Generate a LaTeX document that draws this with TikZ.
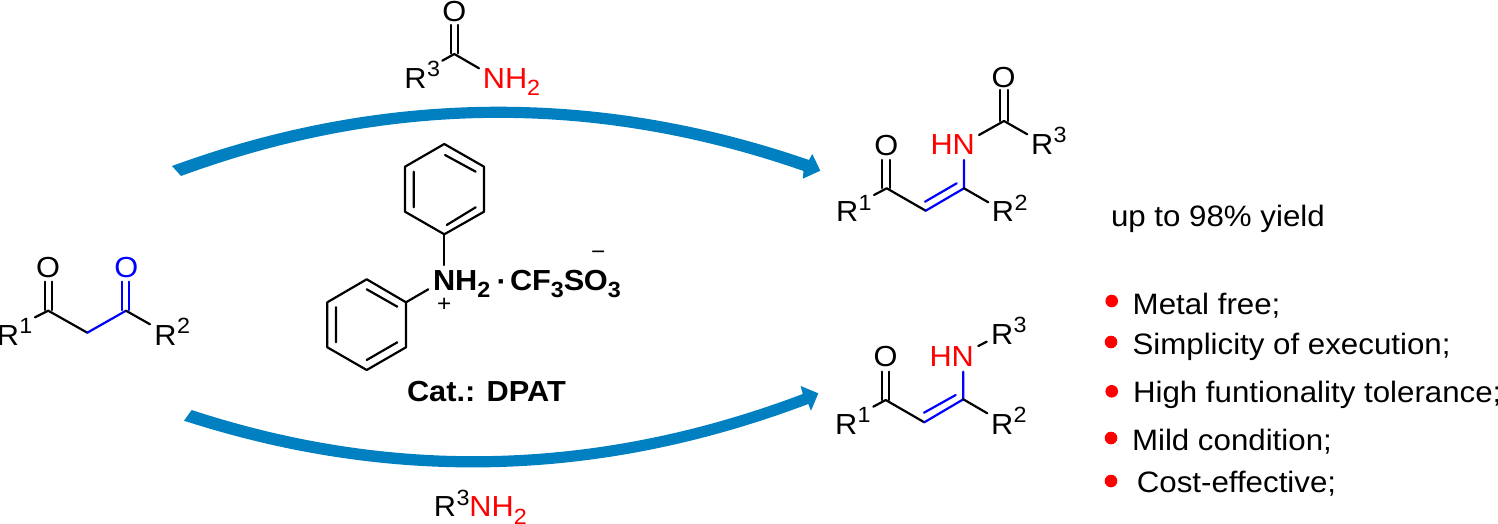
\documentclass[tikz,border=0pt]{standalone}
\usepackage{fontspec}
\setmainfont[FakeStretch=1.06]{Liberation Sans}
\definecolor{arrowblue}{HTML}{0080C0}
\definecolor{purered}{HTML}{FF0000}
\definecolor{pureblue}{HTML}{0000FF}
\newcommand{\upn}[1]{\kern0.5pt\raisebox{11.5pt}{\fontsize{22}{22}\selectfont #1}}
\newcommand{\lown}[1]{\raisebox{-7.7pt}{\fontsize{22}{22}\selectfont #1}}
\tikzset{
  txt/.style={inner sep=0pt,outer sep=0pt,anchor=base west,font=\fontsize{29}{29}\selectfont},
  boldtxt/.style={inner sep=0pt,outer sep=0pt,anchor=base west,font=\fontsize{29}{29}\selectfont\bfseries},
  listtxt/.style={inner sep=0pt,outer sep=0pt,anchor=base west,font=\fontsize{29.5}{29.5}\selectfont},
  bond/.style={line width=2.2pt,line cap=round,line join=round,draw=black},
  bbond/.style={bond,draw=pureblue},
  dotm/.style={circle,fill=purered,minimum size=12.6pt,inner sep=0pt,outer sep=0pt},
  bigarrow/.style={fill=arrowblue,draw=none}
}
\begin{document}
\begin{tikzpicture}[x=1pt,y=-1pt]
\useasboundingbox (0,0) rectangle (1498,524);
\fill[white] (0,0) rectangle (1498,524);

% curved arrows
\coordinate (ta) at (172,166);
\coordinate (tb) at (809,160);
\coordinate (tc) at (812.3,154);
\coordinate (td) at (820.3,170.7);
\coordinate (te) at (802.7,178.7);
\coordinate (tf) at (803.5,171);
\coordinate (tg) at (181,176);
\fill[bigarrow] (ta) .. controls (382,89) and (598,87) .. (tb) -- (tc) -- (td) -- (te) -- (tf) .. controls (596,98.7) and (388,100) .. (tg) -- cycle;
\coordinate (ba) at (191.7,410);
\coordinate (bb) at (802.7,394);
\coordinate (bc) at (800.7,386);
\coordinate (bd) at (818.3,393.3);
\coordinate (be) at (811,410.7);
\coordinate (bf) at (808.3,404);
\coordinate (bg) at (184,420.7);
\fill[bigarrow] (ba) .. controls (395,476.7) and (599,471) .. (bb) -- (bc) -- (bd) -- (be) -- (bf) .. controls (600,482.7) and (392,488) .. (bg) -- cycle;

% diketone
\node[txt] (aO1) at (36,277) {O};
\node[txt,text=pureblue] (aO2) at (114.3,277) {O};
\node[txt] (aR1) at (-3.2,345) {R\upn{1}};
\node[txt] (aR2) at (154.3,345) {R\upn{2}};
\coordinate (a1) at (48.3,310.7);
\coordinate (a2) at (87.3,332.7);
\coordinate (a3) at (126,310.7);
\coordinate (a1r) at (35,317.3);
\coordinate (a3r) at (150,324.3);
\draw[bond] (a1r) -- (a1) -- (a2);
\draw[bbond] (a2) -- (a3);
\draw[bond] (a3) -- (a3r);
\draw[bond] (45,281.7) -- (45,310) (52.3,281.7) -- (52.3,310);
\draw[bbond] (122.3,281.7) -- (122.3,310) (129.3,281.7) -- (129.3,310);

% amide reagent
\node[txt] (mO) at (442.3,22) {O};
\node[txt] (mR) at (404.3,88.3) {R\upn{3}};
\node[txt,text=purered] (mN) at (482.8,88.3) {NH\lown{2}};
\coordinate (m1) at (454.3,54);
\coordinate (m1r) at (442.3,60.7);
\coordinate (m1n) at (479,68.3);
\draw[bond] (m1r) -- (m1) -- (m1n);
\draw[bond] (450.7,25) -- (450.7,53.3) (458.3,25) -- (458.3,53.3);

% catalyst
\coordinate (p1) at (444.3,144);
\coordinate (p2) at (484,166.7);
\coordinate (p3) at (484,211.7);
\coordinate (p4) at (444.3,234.3);
\coordinate (p5) at (405,211.7);
\coordinate (p6) at (405,166.7);
\coordinate (pn) at (444.3,265);
\draw[bond] (p1) -- (p2) -- (p3) -- (p4) -- (p5) -- (p6) -- cycle;
\draw[bond] (p4) -- (pn);
\draw[bond] (445,155) -- (475.7,171.7) (475.7,207.3) -- (446.7,225) (413.7,171.7) -- (413.7,207.3);
\coordinate (q1) at (366.7,279.3);
\coordinate (q2) at (406,302.3);
\coordinate (q3) at (406,347.3);
\coordinate (q4) at (366.7,370);
\coordinate (q5) at (327.3,347.3);
\coordinate (q6) at (327.3,302.3);
\coordinate (qn) at (428.3,289.3);
\draw[bond] (q1) -- (q2) -- (q3) -- (q4) -- (q5) -- (q6) -- cycle;
\draw[bond] (q2) -- (qn);
\draw[bond] (366.7,289.3) -- (397.3,306.7) (397.3,342.3) -- (366.7,360) (336,307.3) -- (336,342.3);
\node[boldtxt] (cN) at (433,290) {NH\lown{2}};
\node[boldtxt,anchor=center] (cDot) at (501.7,286) {·};
\node[boldtxt] (cAn) at (510,290) {CF\lown{3}S\kern-0.5pt O\lown{3}};
\node[txt,anchor=center,font=\fontsize{23}{23}\selectfont] (cP) at (444.3,305) {+};
\node[txt,anchor=center,font=\fontsize{23}{23}\selectfont] (cM) at (598.3,255) {−};
\node[boldtxt] (cCat) at (407,401.7) {Cat.: DPAT};

% product 1
\node[txt] (bO1) at (874.3,155) {O};
\node[txt] (bO2) at (991.6,87.3) {O};
\node[txt] (bR1) at (836,221.7) {R\upn{1}};
\node[txt] (bR2) at (991.8,221.7) {R\upn{2}};
\node[txt] (bR3) at (1031,154.3) {R\upn{3}};
\node[txt,text=purered] (bN) at (930.5,154.3) {HN};
\coordinate (b1) at (886.7,188.3);
\coordinate (b2) at (925.7,210.7);
\coordinate (b3) at (964,188.3);
\coordinate (b4) at (1004,121);
\coordinate (b1r) at (874,195);
\coordinate (b3n) at (964,160);
\coordinate (b3r) at (988.3,202.3);
\coordinate (b4n) at (979,135);
\coordinate (b4r) at (1027.3,134.3);
\draw[bond] (b1r) -- (b1) -- (b2);
\draw[bbond] (b2) -- (b3) -- (b3n);
\draw[bbond] (925,201.7) -- (956.7,183.3);
\draw[bond] (b3) -- (b3r);
\draw[bond] (b4n) -- (b4) -- (b4r);
\draw[bond] (882.3,160) -- (882.3,188) (890,160) -- (890,188);
\draw[bond] (1000,90) -- (1000,121) (1007.7,90) -- (1007.7,121);

% product 2
\node[txt] (dO1) at (873.6,366.7) {O};
\node[txt] (dR1) at (835,434) {R\upn{1}};
\node[txt] (dR2) at (991,434) {R\upn{2}};
\node[txt] (dR3) at (991,344.3) {R\upn{3}};
\node[txt,text=purered] (dN) at (929.5,366.7) {HN};
\coordinate (d1) at (885.7,400);
\coordinate (d2) at (924.3,422.3);
\coordinate (d3) at (963.3,399.3);
\coordinate (d1r) at (873.3,406.7);
\coordinate (d3n) at (963.3,371.7);
\coordinate (d3r) at (987.3,413.3);
\coordinate (dna) at (978.3,346);
\coordinate (dnb) at (986.7,341.7);
\draw[bond] (d1r) -- (d1) -- (d2);
\draw[bbond] (d2) -- (d3) -- (d3n);
\draw[bbond] (924,412.7) -- (955.7,395);
\draw[bond] (d3) -- (d3r);
\draw[bond] (dna) -- (dnb);
\draw[bond] (881.7,371.7) -- (881.7,400) (889.3,371.7) -- (889.3,400);

% bottom amine
\node[txt] (eR) at (433.8,516.7) {R\upn{3}\textcolor{purered}{NH\lown{2}}};

% right column
\node[listtxt] (yld) at (1111,226) {up to 98\% yield};
\node[dotm] (l1) at (1111.7,301) {};
\node[dotm] (l2) at (1111,342) {};
\node[dotm] (l3) at (1111.7,391.3) {};
\node[dotm] (l4) at (1111,438) {};
\node[dotm] (l5) at (1111,481) {};
\node[listtxt] (t1) at (1132.7,314) {Metal free;};
\node[listtxt] (t2) at (1132.5,354) {Simplicity of execution;};
\node[listtxt] (t3) at (1133,402) {High funtionality tolerance;};
\node[listtxt] (t4) at (1132,450.7) {Mild condition;};
\node[listtxt] (t5) at (1136.8,492.7) {Cost-effective;};
\end{tikzpicture}
\end{document}
